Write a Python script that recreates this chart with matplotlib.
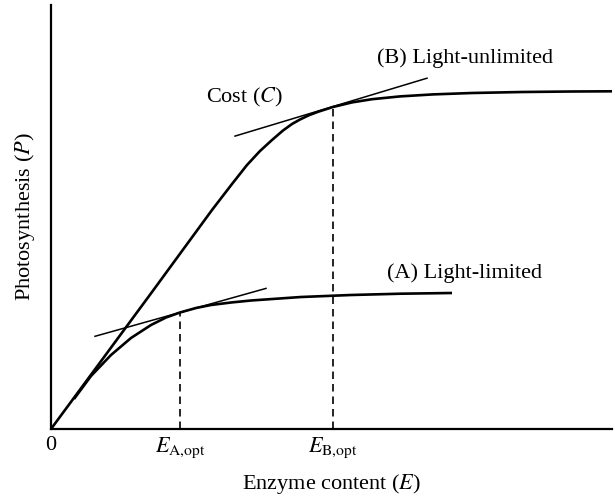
import matplotlib
matplotlib.use("Agg")
import matplotlib.pyplot as plt

plt.rcParams['font.family'] = ['Liberation Serif', 'DejaVu Serif']
plt.rcParams['mathtext.fontset'] = 'stix'

# Curve (B) light-unlimited
E_B = [0, 101, 161, 181, 196, 209, 221, 232, 241, 249, 258, 267, 282, 301, 321, 349, 382, 421, 471, 521, 561]
P_B = [0, 137, 219, 245, 264, 278, 289, 298.5, 305, 309.5, 313.8, 317.2, 322, 326.6, 329.8, 332.6, 334.6, 336, 337, 337.5, 337.7]
# Curve (A) light-limited
E_A = [23, 40, 60, 80, 100, 115, 129, 145, 160, 180, 200, 250, 300, 350, 401]
P_A = [30, 53, 74, 91, 104, 111.5, 116.5, 121, 124, 126.5, 128.5, 132, 134, 135.3, 136]
# Tangent (cost) lines
tanA_E = [44, 215]
tanA_P = [92.7, 140.6]
tanB_E = [184, 376]
tanB_P = [292.9, 350.8]
# Optimum enzyme content
E_opt = [129, 282]
P_opt = [116.5, 322]
tick_pos = [0, 129, 282]
tick_labels = ['0', r'$E_{\mathrm{A{,}opt}}$', r'$E_{\mathrm{B{,}opt}}$']

fig = plt.figure(figsize=(6.15, 5.0), dpi=100)
ax = fig.add_axes([51/615, 71/500, 561/615, 424/500])
ax.set_xlim(0, 561)
ax.set_ylim(0, 424)

ax.plot(E_B, P_B, color='black', lw=1.9, solid_capstyle='butt', solid_joinstyle='round', clip_on=False)
ax.plot(E_A, P_A, color='black', lw=1.9, solid_capstyle='butt', solid_joinstyle='round')
ax.plot(tanA_E, tanA_P, color='black', lw=1.1)
ax.plot(tanB_E, tanB_P, color='black', lw=1.1)
for e, p in zip(E_opt, P_opt):
    ax.plot([e, e], [0, p], color='black', lw=1.2, dashes=(4.5, 3))

ax.text(194, 332, 'Cost ($C$)', fontsize=16, ha='center', va='center')
ax.text(326, 371, '(B) Light-unlimited', fontsize=16, ha='left', va='center')
ax.text(336, 156, '(A) Light-limited', fontsize=16, ha='left', va='center')

for s in ['top', 'right']:
    ax.spines[s].set_visible(False)
for s in ['left', 'bottom']:
    ax.spines[s].set_linewidth(1.6)
ax.set_yticks([])
ax.set_xticks(tick_pos)
ax.set_xticklabels(tick_labels, fontsize=16)
ax.tick_params(axis='x', length=0, pad=5)
ax.set_xlabel('Enzyme content ($E$)', fontsize=16, labelpad=8)
ax.set_ylabel('Photosynthesis ($P$)', fontsize=16, labelpad=10)

fig.savefig('out.png', dpi=100)
